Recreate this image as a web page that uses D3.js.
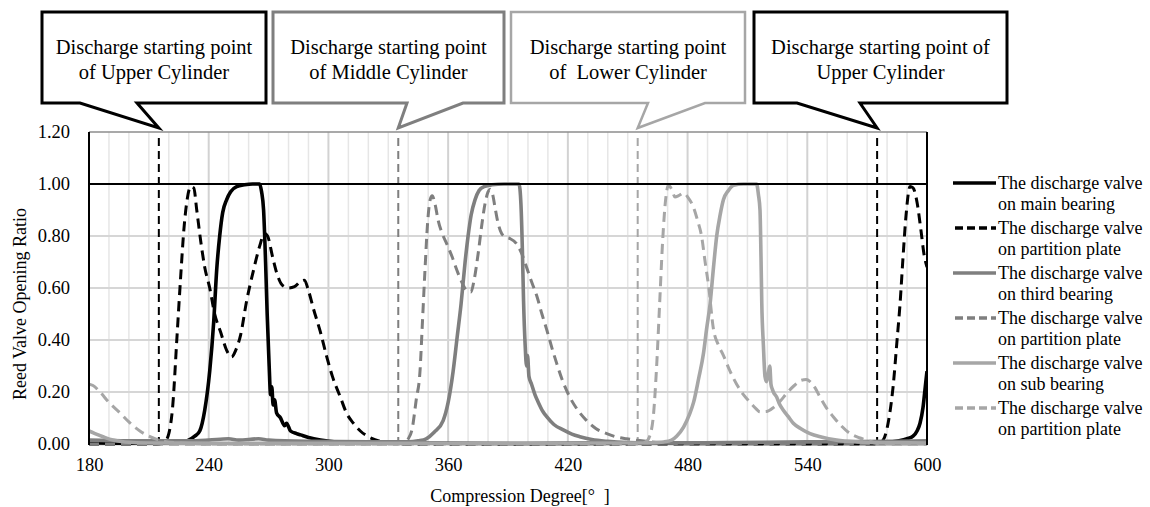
<!DOCTYPE html>
<html>
<head>
<script src="https://d3js.org/d3.v7.min.js"></script>
<style>
  body { margin: 0; background: #fff; }
  text { font-family: "Liberation Serif", "Times New Roman", Times, serif; fill: #000; }
  .tick text { font-size: 18.5px; }
  .callout text { font-size: 20.5px; }
  .legend text { font-size: 18px; }
  .axisTitle { font-size: 18px; }
</style>
</head>
<body>
<script>
// compression degree / reed valve opening ratio
var mainBearing = [[180,0.005],[200,0.003],[220,0.004],[226,0.006],[230,0.015],[233,0.03],[235.5,0.05],[238,0.13],[240.5,0.28],[242.5,0.47],[244,0.67],[245.5,0.8],[247,0.89],[249,0.94],[251,0.97],[254,0.99],[258,0.997],[262,1.0],[265.5,1.0],[266.5,0.97],[267.5,0.9],[268.5,0.7],[269.3,0.5],[270.3,0.3],[271,0.19],[271.6,0.22],[272.3,0.15],[273,0.17],[274,0.12],[276,0.1],[278,0.07],[279,0.08],[281,0.05],[284,0.04],[286,0.035],[290,0.025],[296,0.015],[305,0.007],[320,0.004],[350,0.003],[400,0.002],[450,0.003],[500,0.003],[550,0.004],[580,0.006],[586,0.012],[590,0.02],[593,0.03],[595,0.05],[596.5,0.08],[598,0.14],[599,0.21],[600,0.28]];
var partitionUpper = [[180,0],[214,0],[218,0.01],[220,0.04],[222,0.15],[224,0.4],[226,0.65],[227.5,0.82],[229,0.93],[231,0.99],[232.5,0.985],[234,0.9],[236,0.78],[238,0.68],[240.5,0.6],[243,0.5],[246,0.43],[249,0.36],[251.5,0.335],[253.5,0.36],[256,0.42],[259,0.55],[262.5,0.67],[265.5,0.76],[268,0.81],[269.5,0.8],[272,0.72],[274,0.66],[277,0.61],[280,0.6],[283,0.605],[286,0.625],[288,0.63],[290,0.59],[292.5,0.52],[296,0.43],[299,0.34],[302,0.26],[306,0.18],[309,0.12],[312.5,0.08],[316,0.05],[320,0.028],[326,0.01],[335,0.002],[340,0],[575,0],[578,0.015],[580.5,0.08],[583,0.22],[585,0.4],[586.5,0.54],[588,0.72],[589.5,0.88],[591.5,0.99],[593,0.985],[595,0.93],[597,0.82],[598.5,0.73],[600,0.68]];
var thirdBearing = [[180,0.015],[200,0.012],[230,0.012],[240,0.015],[250,0.02],[255,0.015],[265,0.02],[270,0.015],[290,0.01],[320,0.008],[340,0.008],[345,0.012],[349,0.02],[353,0.045],[357.5,0.09],[360,0.16],[362.5,0.28],[364.5,0.41],[366.5,0.54],[368.5,0.7],[370,0.8],[371.5,0.88],[373.5,0.94],[375.5,0.975],[378,0.99],[382,0.997],[388,1.0],[395.5,1.0],[396.5,0.92],[397.2,0.75],[397.8,0.55],[398.6,0.38],[399.3,0.3],[399.8,0.34],[400.5,0.26],[401.8,0.23],[403.5,0.19],[405.2,0.16],[407.5,0.125],[409.4,0.105],[413,0.075],[417.7,0.054],[422,0.038],[426,0.028],[432,0.017],[440,0.01],[450,0.006],[470,0.004],[500,0.006],[540,0.008],[580,0.01],[600,0.012]];
var partitionMiddle = [[180,0],[335,0],[338,0.008],[340,0.02],[342,0.06],[344,0.17],[345.9,0.28],[347,0.45],[348.4,0.67],[349.7,0.85],[351,0.94],[352,0.955],[353.5,0.92],[355,0.86],[357,0.81],[359.3,0.77],[362,0.72],[364.3,0.67],[367,0.62],[369.3,0.59],[371.5,0.585],[373,0.63],[375,0.73],[377,0.85],[378.5,0.925],[380,0.97],[381,0.98],[382.3,0.96],[383.5,0.91],[385,0.85],[386.8,0.81],[389,0.795],[391,0.79],[394.3,0.77],[397,0.73],[399.3,0.68],[402,0.62],[404.4,0.57],[407,0.5],[409.4,0.44],[412,0.37],[414.4,0.31],[417.5,0.24],[421,0.18],[425,0.13],[429.4,0.09],[434,0.06],[439.5,0.04],[444,0.028],[449.5,0.02],[455,0.014],[459.5,0.01],[470,0.004],[480,0],[600,0]];
var subBearing = [[180,0.05],[183,0.04],[187,0.028],[192,0.015],[198,0.008],[210,0.004],[250,0.003],[300,0.003],[400,0.003],[460,0.004],[468,0.008],[472,0.015],[474.5,0.03],[478,0.065],[481,0.115],[483,0.16],[485.5,0.25],[488,0.35],[489.5,0.44],[491.3,0.54],[493,0.68],[494.6,0.8],[496.3,0.88],[498,0.94],[500.5,0.975],[503,0.995],[508,1.0],[514.6,1.0],[515.5,0.96],[516.3,0.9],[516.8,0.72],[517.2,0.54],[518,0.38],[518.8,0.26],[519.6,0.24],[520.4,0.27],[521.2,0.3],[521.8,0.23],[522.5,0.21],[523,0.2],[524.7,0.18],[526,0.155],[528,0.13],[530.5,0.105],[533,0.08],[537,0.058],[541.4,0.04],[547,0.027],[554.7,0.015],[565,0.008],[578,0.005],[600,0.004]];
var partitionLower = [[180,0.23],[182,0.225],[185.5,0.2],[190,0.16],[195.5,0.12],[200,0.085],[205.5,0.05],[210,0.03],[214,0.018],[218,0.01],[225,0.004],[240,0],[455,0],[459,0.008],[461,0.03],[463,0.12],[464.5,0.3],[466,0.54],[467.5,0.78],[469,0.94],[470.4,0.995],[472,0.98],[473.7,0.95],[475.5,0.955],[478,0.965],[480.5,0.945],[483,0.91],[485,0.86],[487,0.8],[488.8,0.7],[490.5,0.61],[493,0.44],[495.5,0.38],[498,0.34],[501,0.285],[504.6,0.23],[508,0.19],[511.3,0.16],[514,0.138],[516.3,0.124],[519.5,0.125],[523,0.14],[526.5,0.165],[529.7,0.195],[533.5,0.225],[537,0.245],[539.5,0.248],[541.4,0.24],[544,0.215],[546.4,0.18],[549.5,0.14],[553,0.105],[557,0.07],[561.5,0.04],[566,0.024],[569.8,0.015],[574,0.004],[580,0],[600,0]];

var seriesNames = [
  ["The discharge valve", "on main bearing"],
  ["The discharge valve", "on partition plate"],
  ["The discharge valve", "on third bearing"],
  ["The discharge valve", "on partition plate"],
  ["The discharge valve", "on sub bearing"],
  ["The discharge valve", "on partition plate"]
];
var xTicks = [180, 240, 300, 360, 420, 480, 540, 600];
var yTicks = [0, 0.2, 0.4, 0.6, 0.8, 1.0, 1.2];
var startDegrees = [215, 335, 455, 575];
var calloutLines = [
  ["Discharge starting point", "of Upper Cylinder"],
  ["Discharge starting point", "of Middle Cylinder"],
  ["Discharge starting point", "of  Lower Cylinder"],
  ["Discharge starting point of", "Upper Cylinder"]
];

var black = "#000", gray = "#7f7f7f", light = "#a6a6a6";
var series = [
  {values: mainBearing, color: black, dash: null},
  {values: partitionUpper, color: black, dash: "10,6"},
  {values: thirdBearing, color: gray, dash: null},
  {values: partitionMiddle, color: gray, dash: "10,6"},
  {values: subBearing, color: light, dash: null},
  {values: partitionLower, color: light, dash: "10,6"}
];
var startColors = [black, gray, light, black];

var width = 1150, height = 507;
var plot = {left: 89, right: 927, top: 132, bottom: 444};

var svg = d3.select("body").append("svg")
  .attr("width", width)
  .attr("height", height);

var x = d3.scaleLinear().domain([180, 600]).range([plot.left, plot.right]);
var y = d3.scaleLinear().domain([0, 1.2]).range([plot.bottom, plot.top]);

// grid
var grid = svg.append("g");
grid.selectAll(".vg")
  .data(d3.range(190, 600, 10))
  .enter().append("line")
  .attr("x1", d => x(d)).attr("x2", d => x(d))
  .attr("y1", plot.top).attr("y2", plot.bottom)
  .style("stroke", d => d % 60 == 0 ? "#d2d2d2" : "#e6e6e6")
  .style("stroke-width", d => d % 60 == 0 ? 2 : 1.5);
grid.selectAll(".hg")
  .data(yTicks.slice(1, 5))
  .enter().append("line")
  .attr("x1", plot.left).attr("x2", plot.right)
  .attr("y1", d => y(d)).attr("y2", d => y(d))
  .style("stroke", "#d6d6d6")
  .style("stroke-width", 2);

// top frame
svg.append("line")
  .attr("x1", plot.left).attr("x2", plot.right)
  .attr("y1", y(1.2)).attr("y2", y(1.2))
  .style("stroke", "#8c8c8c").style("stroke-width", 1.5);

// axes
var xAxis = d3.axisBottom(x).tickValues(xTicks).tickSize(0).tickPadding(14).tickFormat(d3.format("d"));
var yAxis = d3.axisLeft(y).tickValues(yTicks).tickSize(0).tickPadding(19).tickFormat(d3.format(".2f"));

var gx = svg.append("g")
  .attr("transform", "translate(0," + plot.bottom + ")")
  .call(xAxis);
gx.select(".domain").style("stroke", "#8c8c8c").style("stroke-width", 1.5);

var gy = svg.append("g")
  .attr("transform", "translate(" + plot.left + ",0)")
  .call(yAxis);
gy.select(".domain").remove();
svg.selectAll(".tick text").style("font-family", "'Liberation Serif', 'Times New Roman', serif").style("fill", "#000");

svg.append("defs").append("clipPath").attr("id", "clip")
  .append("rect")
  .attr("x", plot.left).attr("y", plot.top - 2)
  .attr("width", plot.right - plot.left).attr("height", plot.bottom - plot.top + 4);

// discharge start markers
svg.append("g").selectAll("line")
  .data(startDegrees)
  .enter().append("line")
  .attr("x1", d => x(d)).attr("x2", d => x(d))
  .attr("y1", plot.top + 6).attr("y2", plot.bottom)
  .style("stroke", (d, i) => startColors[i])
  .style("stroke-width", 2)
  .style("stroke-dasharray", "8,5");

// series
var line = d3.line()
  .x(d => x(d[0]))
  .y(d => y(d[1]))
  .curve(d3.curveMonotoneX);

svg.append("g").attr("clip-path", "url(#clip)")
  .selectAll("path")
  .data(series)
  .enter().append("path")
  .attr("d", d => line(d.values))
  .style("fill", "none")
  .style("stroke", d => d.color)
  .style("stroke-width", d => d.dash ? 3 : 3.6)
  .style("stroke-dasharray", d => d.dash)
  .style("stroke-linejoin", "round");

// 1.00 reference line, left and right frame
svg.append("line")
  .attr("x1", plot.left).attr("x2", plot.right)
  .attr("y1", y(1)).attr("y2", y(1))
  .style("stroke", "#000").style("stroke-width", 2);
svg.append("line")
  .attr("x1", plot.left).attr("x2", plot.left)
  .attr("y1", plot.top).attr("y2", plot.bottom + 1)
  .style("stroke", "#000").style("stroke-width", 2);
svg.append("line")
  .attr("x1", plot.right).attr("x2", plot.right)
  .attr("y1", plot.top).attr("y2", plot.bottom + 1)
  .style("stroke", "#000").style("stroke-width", 2);

// axis titles
svg.append("text")
  .attr("class", "axisTitle")
  .attr("x", 520).attr("y", 502)
  .attr("text-anchor", "middle")
  .style("white-space", "pre")
  .text("Compression Degree[°  ]");
svg.append("text")
  .attr("class", "axisTitle")
  .attr("transform", "translate(26,304) rotate(-90)")
  .attr("text-anchor", "middle")
  .text("Reed Valve Opening Ratio");

// callouts: box sides and tail base
var boxes = [
  {x0: 42, x1: 266, b0: 80, b1: 137, w: 3},
  {x0: 273, x1: 504, b0: 407, b1: 463, w: 3},
  {x0: 511, x1: 745, b0: 648, b1: 705, w: 2.5},
  {x0: 754, x1: 1007, b0: 797, b1: 860, w: 3}
];
var boxTop = 12, boxBottom = 103, tipY = 128;

var callout = svg.append("g").attr("class", "callout")
  .selectAll("g")
  .data(boxes)
  .enter().append("g");

callout.append("path")
  .attr("d", (b, i) => {
    var tip = x(startDegrees[i]);
    return "M" + b.x0 + "," + boxTop + "H" + b.x1 + "V" + boxBottom +
      "H" + b.b1 + "L" + tip + "," + tipY + "L" + b.b0 + "," + boxBottom +
      "H" + b.x0 + "Z";
  })
  .style("fill", "#fff")
  .style("stroke", (b, i) => startColors[i])
  .style("stroke-width", b => b.w)
  .style("stroke-linejoin", "miter");

callout.each(function(b, i) {
  var g = d3.select(this);
  calloutLines[i].forEach(function(t, j) {
    g.append("text")
      .attr("x", (b.x0 + b.x1) / 2)
      .attr("y", 54 + j * 25)
      .attr("text-anchor", "middle")
      .style("white-space", "pre")
      .text(t);
  });
});

// legend
var legend = svg.append("g").attr("class", "legend")
  .selectAll("g")
  .data(series)
  .enter().append("g")
  .attr("transform", (d, i) => "translate(0," + (183 + i * 45) + ")");

legend.append("line")
  .attr("x1", d => d.dash ? 955 : 953).attr("x2", 996)
  .attr("y1", 0).attr("y2", 0)
  .style("stroke", d => d.color)
  .style("stroke-width", 3.4)
  .style("stroke-dasharray", d => d.dash ? "8,4" : null);

legend.append("text")
  .attr("x", 998).attr("y", 6)
  .text((d, i) => seriesNames[i][0]);
legend.append("text")
  .attr("x", 998).attr("y", 27)
  .text((d, i) => seriesNames[i][1]);
</script>
</body>
</html>
